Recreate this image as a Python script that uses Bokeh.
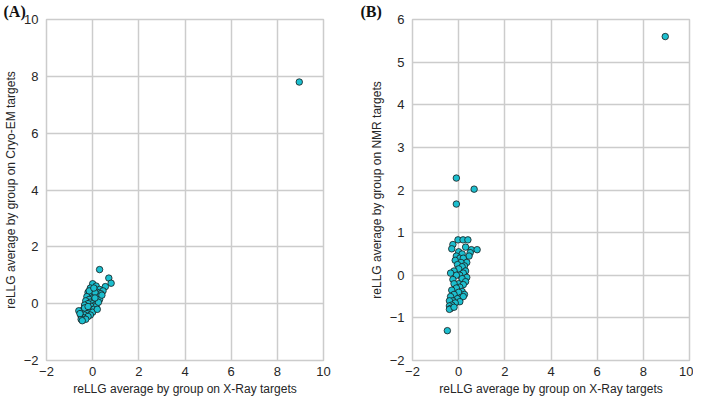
from bokeh.plotting import figure
from bokeh.layouts import row
from bokeh.models import FixedTicker, Title, Range1d, ColumnDataSource
from bokeh.embed import file_html
from bokeh.resources import INLINE

# ---------------- data ----------------
# Panel A: X-Ray vs Cryo-EM
xray_a = [8.95, 0.30, 0.70, 0.80, 0.55, 0.00, 0.15, -0.10, 0.30, 0.45, 0.05, -0.20, 0.20, 0.35,
          -0.05, 0.10, 0.25, -0.25, 0.00, 0.15, 0.30, -0.15, -0.30, 0.05, 0.20, -0.10, 0.00, -0.20,
          0.10, -0.35, -0.05, 0.15, -0.25, -0.10, 0.05, -0.40, -0.30, -0.15, 0.00, -0.45, -0.25,
          -0.35, -0.10, -0.50, -0.20, -0.40, -0.30, -0.50, -0.45, -0.60, 0.20, 0.10, 0.40, -0.15,
          0.05, 0.25, -0.35, -0.55, -0.20, 0.10]
cryoem = [7.80, 1.20, 0.90, 0.72, 0.60, 0.70, 0.62, 0.55, 0.50, 0.45, 0.45, 0.40, 0.40, 0.35,
          0.30, 0.30, 0.25, 0.25, 0.20, 0.15, 0.15, 0.15, 0.10, 0.10, 0.05, 0.05, 0.00, 0.00,
          -0.05, -0.05, -0.10, -0.10, -0.15, -0.20, -0.20, -0.20, -0.25, -0.30, -0.30, -0.30, -0.35,
          -0.40, -0.40, -0.45, -0.45, -0.50, -0.55, -0.55, -0.60, -0.25, -0.20, 0.40, 0.30, 0.45,
          0.55, 0.05, -0.15, -0.35, -0.10, 0.20]

# Panel B: X-Ray vs NMR
xray_b = [8.95, -0.10, -0.10, 0.67, -0.49,
          -0.25, -0.03, 0.19, 0.40, 0.55, -0.30, 0.30, 0.50, 0.80, 0.45,
          0.00, 0.15, -0.10, 0.05, 0.20, 0.35, -0.15, 0.10, 0.25, -0.05, 0.15, 0.30, 0.00, 0.20,
          -0.20, 0.05, 0.35, -0.10, 0.15, 0.30, -0.35, -0.25, 0.00, 0.20,
          -0.20, 0.05, -0.10, 0.15, -0.30, 0.00, 0.25, -0.20, 0.10, -0.35, -0.05, 0.20, -0.25,
          0.05, -0.40, -0.15, -0.30, -0.40, -0.35, -0.40, -0.20]
nmr = [5.60, 2.28, 1.67, 2.02, -1.30,
       0.72, 0.83, 0.83, 0.83, 0.60, 0.62, 0.66, 0.53, 0.60, 0.45,
       0.55, 0.50, 0.45, 0.40, 0.40, 0.30, 0.35, 0.30, 0.22, 0.25, 0.20, 0.10, 0.15, 0.05,
       0.10, 0.00, -0.05, 0.00, -0.08, -0.15, 0.05, -0.10, -0.20, -0.22,
       -0.20, -0.28, -0.30, -0.38, -0.35, -0.40, -0.45, -0.45, -0.52, -0.50, -0.55, -0.50, -0.60,
       -0.62, -0.60, -0.65, -0.70, -0.72, -0.78, -0.80, -0.75]

x_ticks = [-2, 0, 2, 4, 6, 8, 10]
ya_ticks = [-2, 0, 2, 4, 6, 8, 10]
yb_ticks = [-2, -1, 0, 1, 2, 3, 4, 5, 6]
x_label = "reLLG average by group on X-Ray targets"
ya_label = "reLLG average by group on Cryo-EM targets"
yb_label = "reLLG average by group on NMR targets"
panel_a = "(A)"
panel_b = "(B)"

GRID = "#cccccc"
TXT = "#262626"
DOT = "#1cbfcf"


def tick_overrides(ticks):
    return {t: str(t).replace("-", "\u2212") for t in ticks}


def make_panel(xs, ys, yticks, ylabel, width, bl, br, tag, tag_dx):
    p = figure(width=width, height=398, x_range=Range1d(x_ticks[0], x_ticks[-1]),
               y_range=Range1d(yticks[0], yticks[-1]),
               output_backend="svg", toolbar_location=None,
               min_border_left=bl, min_border_right=br, min_border_top=0, min_border_bottom=28)
    p.background_fill_color = "white"
    p.border_fill_color = "white"
    p.outline_line_color = GRID
    p.outline_line_width = 1.5
    for ax, ticks in ((p.xaxis, x_ticks), (p.yaxis, yticks)):
        ax.ticker = FixedTicker(ticks=ticks)
        ax.major_label_overrides = tick_overrides(ticks)
        ax.axis_line_color = None
        ax.major_tick_line_color = None
        ax.minor_tick_line_color = None
        ax.major_tick_out = 0
        ax.major_tick_in = 0
        ax.minor_tick_out = 0
        ax.minor_tick_in = 0
        ax.major_label_text_font = "Liberation Sans"
        ax.major_label_text_font_size = "13px"
        ax.major_label_text_color = TXT
        ax.axis_label_text_font = "Liberation Sans"
        ax.axis_label_text_font_size = "12px"
        ax.axis_label_text_font_style = "normal"
        ax.axis_label_text_color = TXT
        ax.axis_label_standoff = 3
    p.xaxis.major_label_standoff = 6
    p.yaxis.major_label_standoff = 8
    p.xaxis.axis_label = x_label
    p.yaxis.axis_label = ylabel
    p.xgrid.ticker = FixedTicker(ticks=x_ticks)
    p.ygrid.ticker = FixedTicker(ticks=yticks)
    for g in (p.xgrid, p.ygrid):
        g.grid_line_color = GRID
        g.grid_line_width = 1.5

    src = ColumnDataSource(dict(x=xs, y=ys))
    p.scatter("x", "y", source=src, size=6.5, fill_color=DOT, line_color="#1a1a1a",
              line_width=0.8)

    p.add_layout(Title(text=tag, align="left", offset=tag_dx, standoff=0,
                       text_font="Liberation Serif", text_font_style="bold",
                       text_font_size="16px", text_color="#111111"), "above")
    return p


pa = make_panel(xray_a, cryoem, ya_ticks, ya_label, 350, 43, 27, panel_a, -43)
pb = make_panel(xray_b, nmr, yb_ticks, yb_label, 343, 62, 4, panel_b, -52)

layout = row(pa, pb)
open("out.html", "w").write(file_html(layout, INLINE))
